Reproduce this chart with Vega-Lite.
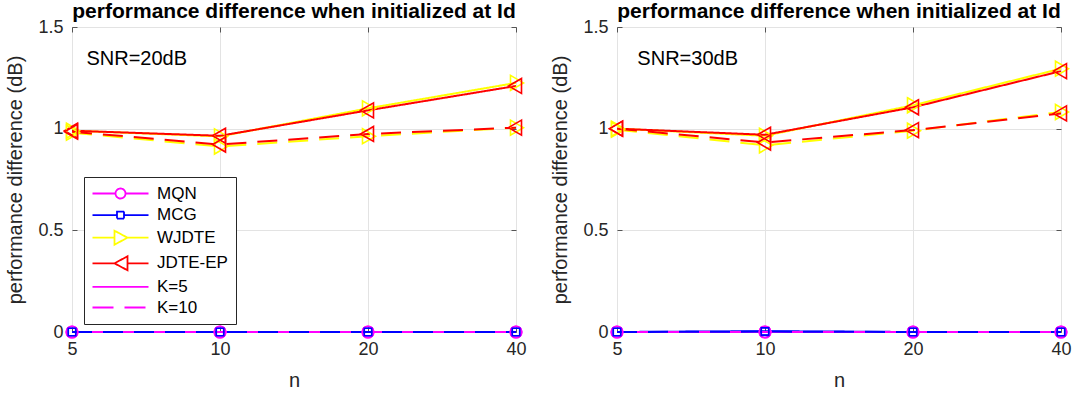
{
  "$schema": "https://vega.github.io/schema/vega-lite/v6.json",
  "padding": {"left": 5, "top": 0, "right": 0, "bottom": 0},
  "spacing": 22,
  "datasets": {
    "perf": [
      {"snr": "20dB", "method": "MCG", "K": "K=5", "n": 5, "value": 0},
      {"snr": "20dB", "method": "MCG", "K": "K=5", "n": 10, "value": 0},
      {"snr": "20dB", "method": "MCG", "K": "K=5", "n": 20, "value": 0},
      {"snr": "20dB", "method": "MCG", "K": "K=5", "n": 40, "value": 0},
      {"snr": "20dB", "method": "MQN", "K": "K=5", "n": 5, "value": 0},
      {"snr": "20dB", "method": "MQN", "K": "K=5", "n": 10, "value": 0},
      {"snr": "20dB", "method": "MQN", "K": "K=5", "n": 20, "value": 0},
      {"snr": "20dB", "method": "MQN", "K": "K=5", "n": 40, "value": 0},
      {"snr": "20dB", "method": "WJDTE", "K": "K=5", "n": 5, "value": 0.99},
      {"snr": "20dB", "method": "WJDTE", "K": "K=5", "n": 10, "value": 0.962},
      {"snr": "20dB", "method": "WJDTE", "K": "K=5", "n": 20, "value": 1.1},
      {"snr": "20dB", "method": "WJDTE", "K": "K=5", "n": 40, "value": 1.225},
      {"snr": "20dB", "method": "JDTE-EP", "K": "K=5", "n": 5, "value": 0.99},
      {"snr": "20dB", "method": "JDTE-EP", "K": "K=5", "n": 10, "value": 0.965},
      {"snr": "20dB", "method": "JDTE-EP", "K": "K=5", "n": 20, "value": 1.09},
      {"snr": "20dB", "method": "JDTE-EP", "K": "K=5", "n": 40, "value": 1.21},
      {"snr": "20dB", "method": "MQN", "K": "K=10", "n": 5, "value": 0},
      {"snr": "20dB", "method": "MQN", "K": "K=10", "n": 10, "value": 0},
      {"snr": "20dB", "method": "MQN", "K": "K=10", "n": 20, "value": 0},
      {"snr": "20dB", "method": "MQN", "K": "K=10", "n": 40, "value": 0},
      {"snr": "20dB", "method": "MCG", "K": "K=10", "n": 5, "value": 0},
      {"snr": "20dB", "method": "MCG", "K": "K=10", "n": 10, "value": 0},
      {"snr": "20dB", "method": "MCG", "K": "K=10", "n": 20, "value": 0},
      {"snr": "20dB", "method": "MCG", "K": "K=10", "n": 40, "value": 0},
      {"snr": "20dB", "method": "WJDTE", "K": "K=10", "n": 5, "value": 0.98},
      {"snr": "20dB", "method": "WJDTE", "K": "K=10", "n": 10, "value": 0.912},
      {"snr": "20dB", "method": "WJDTE", "K": "K=10", "n": 20, "value": 0.963},
      {"snr": "20dB", "method": "WJDTE", "K": "K=10", "n": 40, "value": 1.005},
      {"snr": "20dB", "method": "JDTE-EP", "K": "K=10", "n": 5, "value": 0.985},
      {"snr": "20dB", "method": "JDTE-EP", "K": "K=10", "n": 10, "value": 0.922},
      {"snr": "20dB", "method": "JDTE-EP", "K": "K=10", "n": 20, "value": 0.974},
      {"snr": "20dB", "method": "JDTE-EP", "K": "K=10", "n": 40, "value": 1.005},
      {"snr": "30dB", "method": "MCG", "K": "K=5", "n": 5, "value": 0},
      {"snr": "30dB", "method": "MCG", "K": "K=5", "n": 10, "value": 0.004},
      {"snr": "30dB", "method": "MCG", "K": "K=5", "n": 20, "value": 0},
      {"snr": "30dB", "method": "MCG", "K": "K=5", "n": 40, "value": 0},
      {"snr": "30dB", "method": "MQN", "K": "K=5", "n": 5, "value": 0},
      {"snr": "30dB", "method": "MQN", "K": "K=5", "n": 10, "value": 0},
      {"snr": "30dB", "method": "MQN", "K": "K=5", "n": 20, "value": 0},
      {"snr": "30dB", "method": "MQN", "K": "K=5", "n": 40, "value": 0},
      {"snr": "30dB", "method": "WJDTE", "K": "K=5", "n": 5, "value": 1.0},
      {"snr": "30dB", "method": "WJDTE", "K": "K=5", "n": 10, "value": 0.965},
      {"snr": "30dB", "method": "WJDTE", "K": "K=5", "n": 20, "value": 1.115},
      {"snr": "30dB", "method": "WJDTE", "K": "K=5", "n": 40, "value": 1.295},
      {"snr": "30dB", "method": "JDTE-EP", "K": "K=5", "n": 5, "value": 1.0},
      {"snr": "30dB", "method": "JDTE-EP", "K": "K=5", "n": 10, "value": 0.97},
      {"snr": "30dB", "method": "JDTE-EP", "K": "K=5", "n": 20, "value": 1.105},
      {"snr": "30dB", "method": "JDTE-EP", "K": "K=5", "n": 40, "value": 1.283},
      {"snr": "30dB", "method": "MQN", "K": "K=10", "n": 5, "value": 0},
      {"snr": "30dB", "method": "MQN", "K": "K=10", "n": 10, "value": 0},
      {"snr": "30dB", "method": "MQN", "K": "K=10", "n": 20, "value": 0},
      {"snr": "30dB", "method": "MQN", "K": "K=10", "n": 40, "value": 0},
      {"snr": "30dB", "method": "MCG", "K": "K=10", "n": 5, "value": 0},
      {"snr": "30dB", "method": "MCG", "K": "K=10", "n": 10, "value": 0.002},
      {"snr": "30dB", "method": "MCG", "K": "K=10", "n": 20, "value": 0},
      {"snr": "30dB", "method": "MCG", "K": "K=10", "n": 40, "value": 0},
      {"snr": "30dB", "method": "WJDTE", "K": "K=10", "n": 5, "value": 0.995},
      {"snr": "30dB", "method": "WJDTE", "K": "K=10", "n": 10, "value": 0.918},
      {"snr": "30dB", "method": "WJDTE", "K": "K=10", "n": 20, "value": 0.99},
      {"snr": "30dB", "method": "WJDTE", "K": "K=10", "n": 40, "value": 1.082},
      {"snr": "30dB", "method": "JDTE-EP", "K": "K=10", "n": 5, "value": 1.0},
      {"snr": "30dB", "method": "JDTE-EP", "K": "K=10", "n": 10, "value": 0.932},
      {"snr": "30dB", "method": "JDTE-EP", "K": "K=10", "n": 20, "value": 0.993},
      {"snr": "30dB", "method": "JDTE-EP", "K": "K=10", "n": 40, "value": 1.075}
    ],
    "entries": [
      {"entry": "MQN"}, {"entry": "MCG"}, {"entry": "WJDTE"}, {"entry": "JDTE-EP"}, {"entry": "K=5"}, {"entry": "K=10"}
    ]
  },
  "hconcat": [
    {
      "width": 444,
      "height": 305,
      "title": "performance difference when initialized at Id",
      "layer": [
        {
          "data": {"name": "perf"},
          "transform": [{"filter": "datum.snr == '20dB'"}],
          "mark": {"type": "line", "strokeWidth": 2, "clip": false},
          "encoding": {
            "x": {"field": "n", "type": "quantitative", "scale": {"type": "log", "base": 2, "domain": [5, 40], "nice": false, "zero": false},
                  "axis": {"orient": "bottom", "values": [5, 10, 20, 40], "format": "d", "title": "n", "grid": true, "labelFlush": false, "labelOverlap": false}},
            "y": {"field": "value", "type": "quantitative", "scale": {"domain": [0, 1.5], "nice": false, "zero": false},
                  "axis": {"orient": "left", "values": [0, 0.5, 1, 1.5], "format": "~g", "title": "performance difference (dB)", "grid": true}},
            "color": {"field": "method", "type": "nominal", "scale": {"domain": ["MQN", "MCG", "WJDTE", "JDTE-EP"], "range": ["#ff00ff", "#0000ff", "#ffff00", "#ff0000"]}, "legend": null},
            "strokeDash": {"field": "K", "type": "nominal", "scale": {"domain": ["K=5", "K=10"], "range": [[1, 0], [20, 11]]}, "legend": null}
          }
        },
        {
          "data": {"name": "perf"},
          "transform": [{"filter": "datum.snr == '20dB'"}],
          "mark": {"type": "point", "filled": false, "strokeWidth": 1.6, "opacity": 1, "size": 100, "clip": false},
          "encoding": {
            "x": {"field": "n", "type": "quantitative", "scale": {"type": "log", "base": 2, "domain": [5, 40], "nice": false, "zero": false},
                  "axis": {"orient": "top", "values": [5, 10, 20, 40], "labels": false, "title": null, "grid": false}},
            "y": {"field": "value", "type": "quantitative", "scale": {"domain": [0, 1.5], "nice": false, "zero": false},
                  "axis": {"orient": "right", "values": [0, 0.5, 1, 1.5], "labels": false, "title": null, "grid": false}},
            "color": {"field": "method", "type": "nominal", "scale": {"domain": ["MQN", "MCG", "WJDTE", "JDTE-EP"], "range": ["#ff00ff", "#0000ff", "#ffff00", "#ff0000"]}, "legend": null},
            "shape": {"field": "method", "type": "nominal", "scale": {"domain": ["MQN", "MCG", "WJDTE", "JDTE-EP"],
                      "range": ["M1.15,0A1.15,1.15,0,1,1,-1.15,0A1.15,1.15,0,1,1,1.15,0Z", "M-0.75,-0.75H0.75V0.75H-0.75Z", "M-1.1,-1.5L1.5,0L-1.1,1.5Z", "M1.1,-1.5L-1.5,0L1.1,1.5Z"]}, "legend": null}
          }
        },
        {
          "data": {"values": [{"label": "SNR=20dB", "n": 5.35, "value": 1.343}]},
          "mark": {"type": "text", "align": "left", "baseline": "middle", "fontSize": 20, "color": "#000000"},
          "encoding": {
            "x": {"field": "n", "type": "quantitative", "scale": {"type": "log", "base": 2, "domain": [5, 40], "nice": false, "zero": false}, "axis": null},
            "y": {"field": "value", "type": "quantitative", "scale": {"domain": [0, 1.5], "nice": false, "zero": false}, "axis": null},
            "text": {"field": "label"}
          }
        },
        {
          "data": {"name": "entries"},
          "transform": [{"filter": "false"}],
          "mark": {"type": "point", "filled": false, "strokeWidth": 1.8, "opacity": 1},
          "encoding": {
            "color": {"field": "entry", "type": "nominal",
                      "scale": {"domain": ["MQN", "MCG", "WJDTE", "JDTE-EP", "K=5", "K=10"], "range": ["#ff00ff", "#0000ff", "#ffff00", "#ff0000", "#ff00ff", "#ff00ff"]},
                      "legend": {"title": null}},
            "shape": {"field": "entry", "type": "nominal",
                      "scale": {"domain": ["MQN", "MCG", "WJDTE", "JDTE-EP", "K=5", "K=10"],
                                "range": [
                                  "M-1.6,0H3M5,0H9.6M5,0A1,1,0,1,1,3,0A1,1,0,1,1,5,0",
                                  "M-1.6,0H3.3M4.7,0H9.6M3.3,-0.7H4.7V0.7H3.3Z",
                                  "M-1.6,0H2.8M5.4,0H9.6M2.8,-1.4L5.4,0L2.8,1.4Z",
                                  "M-1.6,0H2.8M5.4,0H9.6M5.4,-1.4L2.8,0L5.4,1.4Z",
                                  "M-1.6,0H9.6",
                                  "M-1.6,0H9.6"
                                ]},
                      "legend": {"title": null}},
            "strokeDash": {"field": "entry", "type": "nominal",
                      "scale": {"domain": ["MQN", "MCG", "WJDTE", "JDTE-EP", "K=5", "K=10"], "range": [[1, 0], [1, 0], [1, 0], [1, 0], [1, 0], [21, 11]]},
                      "legend": {"title": null}}
          }
        }
      ],
      "resolve": {
        "scale": {"color": "independent", "shape": "independent", "strokeDash": "independent"},
        "axis": {"x": "independent", "y": "independent"}
      }
    },
    {
      "width": 444,
      "height": 305,
      "title": "performance difference when initialized at Id",
      "layer": [
        {
          "data": {"name": "perf"},
          "transform": [{"filter": "datum.snr == '30dB'"}],
          "mark": {"type": "line", "strokeWidth": 2, "clip": false},
          "encoding": {
            "x": {"field": "n", "type": "quantitative", "scale": {"type": "log", "base": 2, "domain": [5, 40], "nice": false, "zero": false},
                  "axis": {"orient": "bottom", "values": [5, 10, 20, 40], "format": "d", "title": "n", "grid": true, "labelFlush": false, "labelOverlap": false}},
            "y": {"field": "value", "type": "quantitative", "scale": {"domain": [0, 1.5], "nice": false, "zero": false},
                  "axis": {"orient": "left", "values": [0, 0.5, 1, 1.5], "format": "~g", "title": "performance difference (dB)", "grid": true}},
            "color": {"field": "method", "type": "nominal", "scale": {"domain": ["MQN", "MCG", "WJDTE", "JDTE-EP"], "range": ["#ff00ff", "#0000ff", "#ffff00", "#ff0000"]}, "legend": null},
            "strokeDash": {"field": "K", "type": "nominal", "scale": {"domain": ["K=5", "K=10"], "range": [[1, 0], [20, 11]]}, "legend": null}
          }
        },
        {
          "data": {"name": "perf"},
          "transform": [{"filter": "datum.snr == '30dB'"}],
          "mark": {"type": "point", "filled": false, "strokeWidth": 1.6, "opacity": 1, "size": 100, "clip": false},
          "encoding": {
            "x": {"field": "n", "type": "quantitative", "scale": {"type": "log", "base": 2, "domain": [5, 40], "nice": false, "zero": false},
                  "axis": {"orient": "top", "values": [5, 10, 20, 40], "labels": false, "title": null, "grid": false}},
            "y": {"field": "value", "type": "quantitative", "scale": {"domain": [0, 1.5], "nice": false, "zero": false},
                  "axis": {"orient": "right", "values": [0, 0.5, 1, 1.5], "labels": false, "title": null, "grid": false}},
            "color": {"field": "method", "type": "nominal", "scale": {"domain": ["MQN", "MCG", "WJDTE", "JDTE-EP"], "range": ["#ff00ff", "#0000ff", "#ffff00", "#ff0000"]}, "legend": null},
            "shape": {"field": "method", "type": "nominal", "scale": {"domain": ["MQN", "MCG", "WJDTE", "JDTE-EP"],
                      "range": ["M1.15,0A1.15,1.15,0,1,1,-1.15,0A1.15,1.15,0,1,1,1.15,0Z", "M-0.75,-0.75H0.75V0.75H-0.75Z", "M-1.1,-1.5L1.5,0L-1.1,1.5Z", "M1.1,-1.5L-1.5,0L1.1,1.5Z"]}, "legend": null}
          }
        },
        {
          "data": {"values": [{"label": "SNR=30dB", "n": 5.5, "value": 1.343}]},
          "mark": {"type": "text", "align": "left", "baseline": "middle", "fontSize": 20, "color": "#000000"},
          "encoding": {
            "x": {"field": "n", "type": "quantitative", "scale": {"type": "log", "base": 2, "domain": [5, 40], "nice": false, "zero": false}, "axis": null},
            "y": {"field": "value", "type": "quantitative", "scale": {"domain": [0, 1.5], "nice": false, "zero": false}, "axis": null},
            "text": {"field": "label"}
          }
        }
      ],
      "resolve": {
        "scale": {"color": "independent", "shape": "independent", "strokeDash": "independent"},
        "axis": {"x": "independent", "y": "independent"}
      }
    }
  ],
  "config": {
    "font": "Liberation Sans",
    "background": "#ffffff",
    "view": {"stroke": "#666666", "strokeWidth": 1},
    "title": {"fontSize": 21, "fontWeight": "bold", "color": "#000000", "offset": -4, "font": "Liberation Sans"},
    "axis": {
      "domain": false,
      "labelFont": "Liberation Sans",
      "titleFont": "Liberation Sans",
      "labelFontSize": 18,
      "labelColor": "#262626",
      "titleFontSize": 20,
      "titleFontWeight": "normal",
      "titleColor": "#262626",
      "gridColor": "#e3e3e3",
      "gridWidth": 1,
      "tickColor": "#555555",
      "tickSize": -5,
      "tickWidth": 1
    },
    "axisBottom": {"labelPadding": 13, "titlePadding": 12},
    "axisLeft": {"labelPadding": 14, "titlePadding": 12},
    "legend": {
      "orient": "none",
      "legendX": 12,
      "legendY": 150,
      "padding": 8,
      "fillColor": "#ffffff",
      "strokeColor": "#262626",
      "cornerRadius": 0,
      "symbolSize": 100,
      "symbolStrokeWidth": 1.8,
      "symbolOpacity": 1,
      "labelFontSize": 17,
      "labelColor": "#000000",
      "labelFont": "Liberation Sans",
      "labelOffset": 48,
      "rowPadding": 2.6
    }
  }
}
